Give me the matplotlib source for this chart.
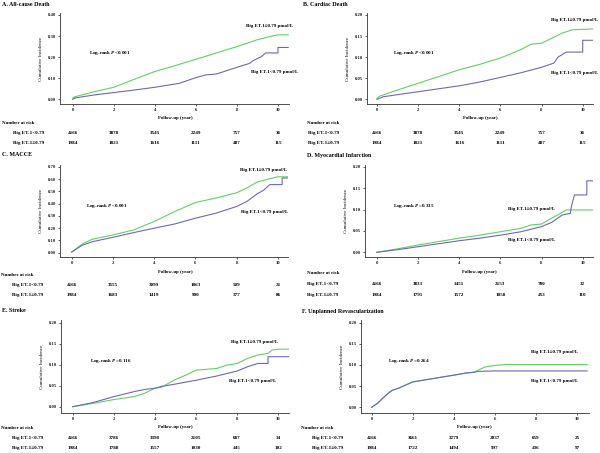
import matplotlib
matplotlib.use('Agg')
import matplotlib.pyplot as plt
from matplotlib.transforms import blended_transform_factory

plt.rcParams['font.family'] = ['Liberation Serif', 'DejaVu Serif']
plt.rcParams['font.weight'] = 'bold'
plt.rcParams['mathtext.fontset'] = 'custom'
plt.rcParams['mathtext.it'] = 'Liberation Serif:italic:bold'
plt.rcParams['mathtext.rm'] = 'Liberation Serif:bold'

W, H = 600, 453
GREEN = '#63cf63'
BLUE = '#6a6ab6'

# ---- data (years, cumulative incidence) ----
years = [0, 2, 4, 6, 8, 10]
row_labels = ['Big ET-1<0.79', 'Big ET-1\u22650.79']

a_t_hi = [0, 0.1, 1, 2, 3, 4, 5, 6, 7, 7.5, 8, 9, 9.5, 10, 10.5]
a_y_hi = [0.005, 0.012, 0.035, 0.057, 0.095, 0.132, 0.16, 0.19, 0.22, 0.235, 0.25, 0.283, 0.295, 0.306, 0.306]
a_t_lo = [0, 0.1, 1, 2, 3, 4, 5.2, 6, 6.5, 7, 8, 8.6, 8.8, 9.2, 9.4, 10, 10, 10.5]
a_y_lo = [0.0, 0.006, 0.02, 0.032, 0.044, 0.057, 0.076, 0.103, 0.116, 0.12, 0.152, 0.17, 0.184, 0.203, 0.22, 0.22, 0.246, 0.246]
a_risk_lo = [4166, 3878, 3545, 2249, 757, 36]
a_risk_hi = [1984, 1821, 1616, 1111, 487, 115]

b_t_hi = [0, 0.1, 1, 2, 3, 4, 5, 6, 7, 7.5, 8, 8.5, 9, 9.5, 10.5]
b_y_hi = [0.002, 0.007, 0.022, 0.038, 0.054, 0.07, 0.083, 0.098, 0.118, 0.131, 0.133, 0.145, 0.157, 0.165, 0.167]
b_t_lo = [0, 0.3, 1, 2, 3, 4, 5, 6, 7, 8, 8.6, 8.8, 9.2, 10, 10, 10.5]
b_y_lo = [0.0, 0.006, 0.011, 0.018, 0.025, 0.032, 0.041, 0.052, 0.063, 0.076, 0.086, 0.1, 0.112, 0.112, 0.14, 0.14]
b_risk_lo = [4166, 3878, 3545, 2249, 757, 36]
b_risk_hi = [1984, 1821, 1616, 1111, 487, 115]

c_t_hi = [0, 0.5, 1, 2, 3, 4, 5, 6, 7, 8, 8.5, 9, 9.5, 10, 10.5]
c_y_hi = [0.005, 0.07, 0.11, 0.145, 0.186, 0.255, 0.337, 0.41, 0.447, 0.49, 0.53, 0.578, 0.6, 0.62, 0.62]
c_t_lo = [0, 0.5, 1, 2, 3, 4, 5, 6, 7, 8, 8.5, 9, 9.3, 9.6, 10.2, 10.2, 10.5]
c_y_lo = [0.005, 0.06, 0.09, 0.126, 0.164, 0.2, 0.235, 0.282, 0.323, 0.378, 0.42, 0.482, 0.51, 0.556, 0.556, 0.61, 0.61]
c_risk_lo = [4166, 3555, 3099, 1863, 509, 21]
c_risk_hi = [1984, 1683, 1419, 900, 377, 86]

d_t_hi = [0, 1, 2, 3, 4, 5, 6, 7, 7.5, 8, 8.5, 9, 9.2, 10.5]
d_y_hi = [0.0, 0.008, 0.017, 0.025, 0.033, 0.04, 0.048, 0.056, 0.064, 0.066, 0.08, 0.093, 0.099, 0.099]
d_t_lo = [0, 1, 2, 3, 4, 5, 6, 7, 8, 8.5, 9, 9.4, 9.45, 9.6, 10.2, 10.2, 10.5]
d_y_lo = [0.0, 0.006, 0.013, 0.02, 0.027, 0.033, 0.04, 0.048, 0.06, 0.07, 0.087, 0.091, 0.107, 0.134, 0.134, 0.167, 0.167]
d_risk_lo = [4166, 3833, 3451, 2153, 780, 32]
d_risk_hi = [1984, 1791, 1572, 1058, 453, 110]

e_t_hi = [0, 1, 2, 3, 3.5, 4, 4.3, 5, 5.5, 6, 7, 7.5, 8, 8.5, 9, 9.5, 9.7, 10, 10.5]
e_y_hi = [0.0, 0.008, 0.017, 0.024, 0.032, 0.044, 0.046, 0.065, 0.075, 0.087, 0.091, 0.099, 0.103, 0.115, 0.123, 0.127, 0.135, 0.137, 0.137]
e_t_lo = [0, 1, 2, 3, 3.5, 4, 4.3, 5, 6, 7, 8, 8.5, 9, 9.5, 9.5, 10.5]
e_y_lo = [0.0, 0.01, 0.024, 0.036, 0.041, 0.044, 0.048, 0.054, 0.063, 0.073, 0.085, 0.095, 0.103, 0.103, 0.119, 0.119]
e_risk_lo = [4166, 3786, 3398, 2105, 687, 34]
e_risk_hi = [1984, 1788, 1557, 1030, 445, 102]

f_t_hi = [0, 0.3, 0.5, 0.8, 1, 1.3, 2, 3, 4, 4.6, 5, 5.2, 5.5, 6, 6.5, 10.5]
f_y_hi = [0.0, 0.01, 0.02, 0.033, 0.04, 0.045, 0.06, 0.068, 0.076, 0.081, 0.083, 0.088, 0.095, 0.099, 0.101, 0.101]
f_t_lo = [0, 0.3, 0.5, 0.8, 1, 1.3, 2, 3, 4, 4.6, 5, 5.2, 6, 10.5]
f_y_lo = [0.0, 0.01, 0.02, 0.033, 0.04, 0.045, 0.06, 0.068, 0.076, 0.081, 0.083, 0.085, 0.086, 0.086]
f_risk_lo = [4166, 3661, 3279, 2037, 659, 25]
f_risk_hi = [1984, 1722, 1494, 997, 436, 97]

panels = [
    dict(title='A. All-cause Death', hi=(a_t_hi, a_y_hi), lo=(a_t_lo, a_y_lo),
         risk=(a_risk_lo, a_risk_hi), p='<0.001', ymax=0.40, ystep=0.10),
    dict(title='B. Cardiac Death', hi=(b_t_hi, b_y_hi), lo=(b_t_lo, b_y_lo),
         risk=(b_risk_lo, b_risk_hi), p='<0.001', ymax=0.20, ystep=0.05),
    dict(title='C. MACCE', hi=(c_t_hi, c_y_hi), lo=(c_t_lo, c_y_lo),
         risk=(c_risk_lo, c_risk_hi), p='<0.001', ymax=0.70, ystep=0.10),
    dict(title='D. Myocardial Infarction', hi=(d_t_hi, d_y_hi), lo=(d_t_lo, d_y_lo),
         risk=(d_risk_lo, d_risk_hi), p='=0.335', ymax=0.20, ystep=0.05),
    dict(title='E. Stroke', hi=(e_t_hi, e_y_hi), lo=(e_t_lo, e_y_lo),
         risk=(e_risk_lo, e_risk_hi), p='=0.116', ymax=0.20, ystep=0.05),
    dict(title='F. Unplanned Revascularization', hi=(f_t_hi, f_y_hi), lo=(f_t_lo, f_y_lo),
         risk=(f_risk_lo, f_risk_hi), p='=0.264', ymax=0.20, ystep=0.05),
]

# ---- layout in pixels ----
# axes: left spine, right end, x of t=0, x of t=10, top, spine y, y of zero, y of ymax
axes_px = [
    (60, 289, 72.7, 278, 13, 104, 99.3, 15),
    (367, 593, 377, 582.7, 13, 104, 99.3, 15),
    (60, 288, 71.7, 278, 165, 257, 252.7, 167),
    (365, 593, 376.7, 582.7, 165, 257, 252.3, 166.7),
    (61, 289, 72.7, 278.3, 320, 413, 406.7, 322.7),
    (361, 589, 371.7, 577, 320, 413, 407.3, 322.7),
]
# title, log-rank text, label >=, label <, number-at-risk header, row label x, rows y, xlabel y
text_px = [
    dict(title=(2, 5), p=(89, 53), hi=(293, 26), lo=(298, 72), nar=(2, 123), rx=13, rows=(133, 143), xl=118),
    dict(title=(303, 5), p=(393, 53), hi=(598, 20), lo=(598, 73), nar=(307, 123), rx=308, rows=(133, 143), xl=118),
    dict(title=(2, 155), p=(86, 206), hi=(287, 170), lo=(288, 212), nar=(1, 275), rx=12, rows=(285, 295), xl=272),
    dict(title=(307, 155), p=(393, 206), hi=(555, 209), lo=(555, 240), nar=(307, 273), rx=307, rows=(284, 295), xl=272),
    dict(title=(2, 311), p=(90, 361), hi=(278, 342), lo=(276, 381), nar=(1, 428), rx=12, rows=(438, 448), xl=427),
    dict(title=(302, 311), p=(388, 361), hi=(578, 352), lo=(578, 381), nar=(301, 428), rx=312, rows=(438, 448), xl=427),
]

fig = plt.figure(figsize=(6, 4.53), dpi=100)


def fx(x):
    return x / W


def fy(y):
    return 1 - y / H


for pan, ap, tp in zip(panels, axes_px, text_px):
    left, right, t0, t10, top, spine, zero, ymaxpx = ap
    ax = fig.add_axes([fx(left), fy(spine), (right - left) / W, (spine - top) / H])
    ppy = (t10 - t0) / 10
    ax.set_xlim(-(t0 - left) / ppy, (right - t0) / ppy)
    ppu = (zero - ymaxpx) / pan['ymax']
    ax.set_ylim(-(spine - zero) / ppu, (zero - top) / ppu)

    ax.plot(*pan['hi'], color=GREEN, lw=0.8)
    ax.plot(*pan['lo'], color=BLUE, lw=0.8)

    n = int(round(pan['ymax'] / pan['ystep']))
    ax.set_yticks([i * pan['ystep'] for i in range(n + 1)])
    ax.set_yticklabels(['%.2f' % (i * pan['ystep']) for i in range(n + 1)])
    ax.set_xticks(years)
    ax.set_xticklabels([str(y) for y in years])
    ax.tick_params(labelsize=3.4, length=1.5, width=0.5, pad=1.5, colors='#222222')
    for s in ['top', 'right']:
        ax.spines[s].set_visible(False)
    for s in ['left', 'bottom']:
        ax.spines[s].set_linewidth(0.6)
        ax.spines[s].set_color('#333333')
    ax.set_ylabel('Cumulative Incidence', fontsize=3.6, labelpad=3)

    fig.text(fx((t0 + t10) / 2), fy(tp['xl']), 'Follow-up (year)', fontsize=3.5,
             ha='center', va='center')
    fig.text(fx(tp['title'][0]), fy(tp['title'][1]), pan['title'], fontsize=4.3,
             ha='left', va='center')
    fig.text(fx(tp['p'][0]), fy(tp['p'][1]), 'Log-rank $P$\u2009' + pan['p'], fontsize=3.6,
             ha='left', va='center', family=['Liberation Serif', 'DejaVu Serif'])
    fig.text(fx(tp['hi'][0]), fy(tp['hi'][1]), 'Big ET-1\u22650.79 pmol/L', fontsize=3.6,
             ha='right', va='center')
    fig.text(fx(tp['lo'][0]), fy(tp['lo'][1]), 'Big ET-1<0.79 pmol/L', fontsize=3.6,
             ha='right', va='center')

    fig.text(fx(tp['nar'][0]), fy(tp['nar'][1]), 'Number at risk', fontsize=3.6,
             ha='left', va='center')
    trans = blended_transform_factory(ax.transData, fig.transFigure)
    for lab, vals, ry in zip(row_labels, pan['risk'], tp['rows']):
        fig.text(fx(tp['rx']), fy(ry), lab, fontsize=3.7, ha='left', va='center')
        for yr, v in zip(years, vals):
            ax.text(yr, fy(ry), str(v), transform=trans, fontsize=3.7,
                    ha='center', va='center', clip_on=False)

fig.savefig('out.png', dpi=100)
